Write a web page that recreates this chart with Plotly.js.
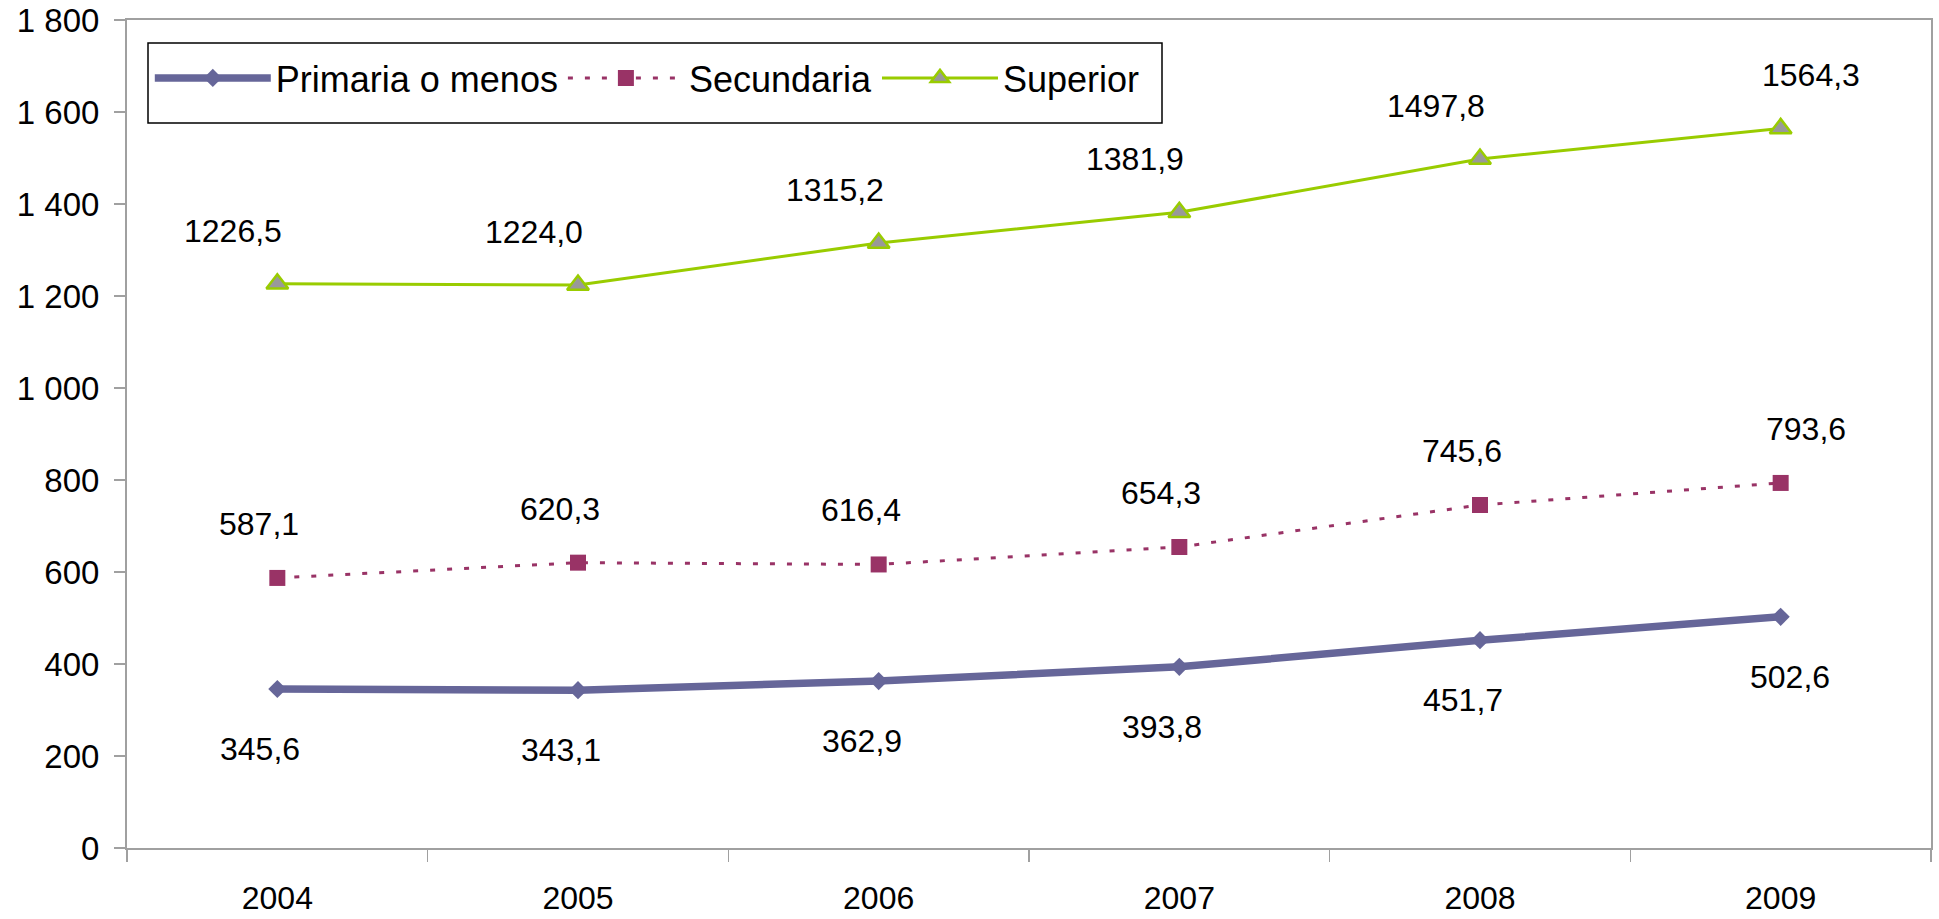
<!DOCTYPE html>
<html>
<head>
<meta charset="utf-8">
<script src="https://cdn.plot.ly/plotly-3.0.1.min.js"></script>
<style>
  html, body { margin: 0; padding: 0; background: #ffffff; }
  #chart { width: 1939px; height: 919px; }
</style>
</head>
<body>
<div id="chart"></div>
<script>
const years = ["2004", "2005", "2006", "2007", "2008", "2009"];
const primaria = [345.6, 343.1, 362.9, 393.8, 451.7, 502.6];
const secundaria = [587.1, 620.3, 616.4, 654.3, 745.6, 793.6];
const superior = [1226.5, 1224.0, 1315.2, 1381.9, 1497.8, 1564.3];
const seriesNames = ["Primaria o menos", "Secundaria", "Superior"];
const yTickVals = [0, 200, 400, 600, 800, 1000, 1200, 1400, 1600, 1800];

const FONT = "Liberation Sans, Arial, sans-serif";
const fmtNum = v => v.toFixed(1).replace('.', ',');

const traces = [
  {
    x: years, y: primaria, name: seriesNames[0], type: "scatter", mode: "lines+markers",
    line: { color: "#666699", width: 7.5 },
    marker: { symbol: "diamond", size: 14, color: "#666699" }
  },
  {
    x: years, y: secundaria, name: seriesNames[1], type: "scatter", mode: "lines+markers",
    line: { color: "#993366", width: 3, dash: "5px,12px" },
    marker: { symbol: "square", size: 16, color: "#993366" }
  },
  {
    x: years, y: superior, name: seriesNames[2], type: "scatter", mode: "lines+markers",
    line: { color: "#99CC00", width: 3 },
    marker: { symbol: "triangle-up", size: 19, color: "#999999", line: { color: "#99CC00", width: 2.5 } }
  }
];

// data labels: style offsets per series (the last label sits to the right, as in the original)
const annotations = [];
function addLabels(vals, dy, dx, dxLast) {
  vals.forEach(function (v, i) {
    annotations.push({
      x: i, y: v, xref: "x", yref: "y", text: fmtNum(v), showarrow: false,
      yshift: dy, xshift: i === vals.length - 1 ? dxLast : dx,
      font: { family: FONT, size: 32, color: "#000000" }
    });
  });
}
addLabels(primaria, -60, -17, 9);
addLabels(secundaria, 54, -18, 25);
addLabels(superior, 53, -44, 30);

const lx0 = (148 - 127) / 1804, lx1 = (1162 - 127) / 1804;
const ly0 = (848 - 123) / 828, ly1 = (848 - 43) / 828;

const layout = {
  width: 1939, height: 919,
  margin: { l: 127, r: 8, t: 20, b: 71 },
  paper_bgcolor: "#ffffff", plot_bgcolor: "#ffffff",
  separators: ", ",
  font: { family: FONT, size: 32, color: "#000000" },
  showlegend: true,
  legend: {
    orientation: "h", x: lx0 + 0.001, y: (ly0 + ly1) / 2 + 5 / 828, xanchor: "left", yanchor: "middle",
    borderwidth: 0, bgcolor: "rgba(0,0,0,0)",
    font: { family: FONT, size: 36, color: "#000000" },
    itemwidth: 116, tracegroupgap: 0
  },
  shapes: [{
    type: "rect", xref: "paper", yref: "paper", x0: lx0, x1: lx1, y0: ly0, y1: ly1,
    line: { color: "#000000", width: 1.5 }, fillcolor: "rgba(0,0,0,0)", layer: "below"
  }],
  xaxis: {
    type: "category", range: [-0.5, 5.5], tickson: "boundaries",
    showline: true, linecolor: "#a0a0a0", linewidth: 2, mirror: true,
    ticks: "outside", ticklen: 12, tickcolor: "#a0a0a0", tickwidth: 1.5,
    showgrid: false, zeroline: false,
    tickfont: { family: FONT, size: 32, color: "#000000" },
    ticklabelstandoff: 21
  },
  yaxis: {
    range: [0, 1800], tickvals: yTickVals, separatethousands: true,
    showline: true, linecolor: "#a0a0a0", linewidth: 2, mirror: true,
    ticks: "outside", ticklen: 11, tickcolor: "#a0a0a0", tickwidth: 1.5,
    showgrid: false, zeroline: false,
    tickfont: { family: FONT, size: 33, color: "#000000" },
    ticklabelstandoff: 8
  },
  annotations: annotations
};

Plotly.newPlot("chart", traces, layout, { displayModeBar: false, staticPlot: true });
</script>
</body>
</html>
